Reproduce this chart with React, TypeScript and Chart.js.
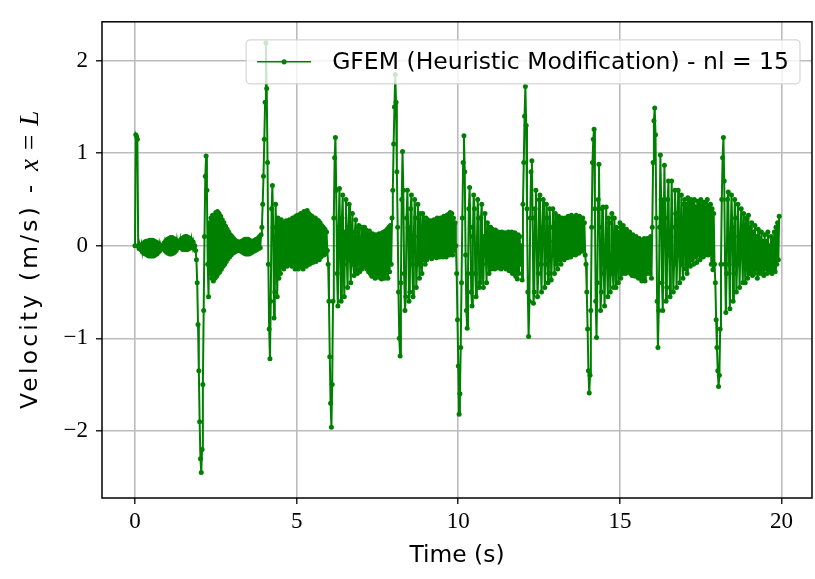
import React, { useEffect, useRef } from "react";
import { Chart, registerables } from "chart.js";

Chart.register(...registerables);

// ---- data ----
const SERIES_LABEL = "GFEM (Heuristic Modification) - nl = 15";
const X_TITLE = "Time (s)";
const Y_TITLE_TEXT = "Velocity (m/s) - ";
const Y_TITLE_MATH = ["x", "=", "L"];
const X_TICKS = [0, 5, 10, 15, 20];
const Y_TICKS = [-2, -1, 0, 1, 2];
const X_RANGE = [-1.02, 20.94];
const Y_RANGE = [-2.725, 2.42];

// sampling of the velocity record (s)
const SAMPLE_START = 0;
const SAMPLE_STEP = 0.025;

// velocity at x = L (m/s), t = 0 ... 4.975 s
const VELOCITY_0_5 = [
  0, 1.2, 1.18, 1.15, 0, -0.03, 0, -0.04, 0.01, -0.06, 0.02, -0.08, 0.04, -0.09, 0.05, -0.1, 0.05, -0.11, 0.06, -0.11,
  0.06, -0.11, 0.06, -0.11, 0.05, -0.1, 0.04, -0.09, 0.03, -0.07, 0.01, -0.05, 0, -0.03, 0, -0.02, 0.03, -0.05, 0.05, -0.07,
  0.07, -0.08, 0.08, -0.09, 0.09, -0.09, 0.09, -0.08, 0.08, -0.07, 0.07, -0.05, 0.05, -0.02, 0.03, 0, 0.06, -0.02, 0.08, -0.04,
  0.09, -0.04, 0.1, -0.04, 0.1, -0.04, 0.09, -0.03, 0.08, -0.02, 0.06, -0.01, 0.04, -0.02, 0, -0.05, -0.15, -0.4, -0.85, -1.35,
  -1.9, -2.3, -2.45, -2.2, -1.5, -0.7, 0.1, 0.75, 0.97, 0.6, -0.2, -0.55, 0.25, -0.3, 0.3, -0.35, 0.33, -0.38, 0.32, -0.35,
  0.36, -0.33, 0.37, -0.3, 0.35, -0.28, 0.32, -0.25, 0.28, -0.22, 0.25, -0.2, 0.21, -0.17, 0.18, -0.14, 0.15, -0.12, 0.12, -0.1,
  0.1, -0.08, 0.08, -0.07, 0.06, -0.06, 0.05, -0.05, 0.04, -0.05, 0.04, -0.06, 0.05, -0.07, 0.06, -0.08, 0.07, -0.09, 0.07, -0.09,
  0.07, -0.09, 0.06, -0.08, 0.05, -0.07, 0.05, -0.06, 0.06, -0.05, 0.07, -0.04, 0.08, -0.03, 0.1, -0.02, 0.12, 0.2, 0.45, 0.75,
  1.15, 1.55, 2.19, 1.7, 0.9, -0.2, -0.9, -1.22, -0.6, 0.4, 0.65, 0.2, -0.78, -0.5, 0.45, 0.1, -0.55, 0.3, -0.35, 0.25,
  -0.3, 0.28, -0.22, 0.25, -0.25, 0.22, -0.2, 0.27, -0.22, 0.25, -0.2, 0.28, -0.18, 0.27, -0.22, 0.3, -0.2, 0.3, -0.25, 0.32,
];

// t = 5.0 ... 9.975 s
const VELOCITY_5_10 = [
  -0.22, 0.33, -0.25, 0.3, -0.2, 0.35, -0.23, 0.32, -0.25, 0.37, -0.2, 0.36, -0.22, 0.38, -0.18, 0.35, -0.2, 0.33, -0.17, 0.32,
  -0.18, 0.3, -0.15, 0.3, -0.17, 0.28, -0.14, 0.27, -0.15, 0.25, -0.12, 0.22, -0.1, 0.2, -0.1, 0.18, -0.08, 0.15, -0.05, -0.2,
  -0.6, -1.2, -1.7, -1.96, -1.5, -0.6, 0.3, 0.95, 1.17, 0.6, -0.3, -0.65, 0.2, 0.62, -0.1, -0.6, 0.3, 0.55, -0.2, -0.55,
  0.15, 0.5, -0.1, -0.45, 0.2, 0.45, -0.15, -0.4, 0.1, 0.35, -0.2, -0.32, 0.15, 0.28, -0.25, -0.3, 0.2, 0.22, -0.28, -0.2,
  0.2, -0.25, 0.18, -0.22, 0.2, -0.2, 0.17, -0.25, 0.15, -0.28, 0.16, -0.3, 0.12, -0.33, 0.13, -0.3, 0.1, -0.35, 0.12, -0.32,
  0.1, -0.34, 0.13, -0.3, 0.12, -0.36, 0.14, -0.33, 0.15, -0.35, 0.16, -0.3, 0.18, -0.35, 0.2, -0.28, 0.22, -0.2, 0.3, 0.6,
  1.1, 1.5, 1.85, 1.55, 0.8, 0.2, -0.5, -1.0, -1.19, -0.4, 0.5, 1.02, 0.6, -0.3, -0.7, -0.55, 0.3, 0.6, 0.2, -0.6,
  -0.5, 0.4, 0.55, -0.2, -0.55, 0.1, 0.5, 0.3, -0.45, -0.2, 0.45, 0.1, -0.35, 0.35, -0.1, -0.3, 0.35, -0.15, 0.3, -0.2,
  0.3, -0.15, 0.28, -0.12, 0.25, -0.1, 0.27, -0.14, 0.25, -0.12, 0.28, -0.1, 0.26, -0.13, 0.3, -0.1, 0.27, -0.12, 0.3, -0.08,
  0.28, -0.12, 0.32, -0.1, 0.3, -0.12, 0.33, -0.08, 0.34, -0.1, 0.36, -0.06, 0.35, -0.1, 0.3, -0.05, 0.25, 0, -0.3, -0.8,
];

// t = 10.0 ... 14.975 s
const VELOCITY_10_15 = [
  -1.3, -1.82, -1.6, -1.1, -0.4, 0.3, 0.9, 1.19, 0.8, -0.1, -0.7, -0.89, -0.3, 0.4, 0.63, 0.2, -0.5, -0.65, 0.1, 0.55,
  0.4, -0.3, -0.55, 0, 0.5, 0.3, -0.45, -0.4, 0.3, 0.45, -0.2, -0.45, 0.1, 0.35, -0.1, -0.4, 0.25, 0.15, -0.3, 0.2,
  0.2, -0.25, 0.18, -0.22, 0.15, -0.25, 0.17, -0.2, 0.14, -0.24, 0.15, -0.22, 0.12, -0.25, 0.15, -0.2, 0.12, -0.23, 0.14, -0.25,
  0.12, -0.22, 0.15, -0.27, 0.13, -0.25, 0.15, -0.3, 0.12, -0.28, 0.14, -0.33, 0.1, -0.36, 0.12, -0.3, 0.1, -0.2, 0, -0.37,
  0.45, 0.9, 1.4, 1.72, 1.3, 0.4, -0.5, -0.98, -0.6, 0.3, 0.8, 0.92, 0.3, -0.62, -0.5, 0.4, 0.6, 0, -0.55, -0.3,
  0.5, 0.55, -0.2, -0.5, 0.2, 0.5, 0.1, -0.45, -0.2, 0.45, 0.3, -0.4, -0.3, 0.4, 0.2, -0.37, -0.1, 0.4, 0.05, -0.3,
  0.35, -0.2, 0.3, -0.25, 0.32, -0.15, 0.28, -0.2, 0.3, -0.12, 0.27, -0.15, 0.3, -0.1, 0.28, -0.13, 0.32, -0.08, 0.3, -0.12,
  0.33, -0.1, 0.28, -0.07, 0.3, -0.1, 0.33, -0.05, 0.3, -0.08, 0.32, -0.05, 0.28, -0.06, 0.3, -0.02, 0.25, -0.1, -0.2, -0.5,
  -0.9, -1.35, -1.59, -1.4, -0.7, 0.2, 0.9, 1.15, 1.26, 0.4, -0.6, -0.99, -0.4, 0.5, 0.88, 0.2, -0.7, -0.5, 0.4, 0.42,
  -0.3, -0.65, 0, 0.42, -0.2, -0.55, 0.3, 0.25, -0.5, -0.1, 0.35, -0.3, -0.45, 0.3, 0.1, -0.45, 0.2, 0.15, -0.4, 0.1,
];

// t = 15.0 ... 19.925 s
const VELOCITY_15_20 = [
  0.25, -0.35, 0.2, -0.3, 0.22, -0.28, 0.15, -0.3, 0.18, -0.25, 0.12, -0.28, 0.15, -0.3, 0.1, -0.32, 0.12, -0.28, 0.08, -0.33,
  0.1, -0.3, 0.06, -0.35, 0.08, -0.33, 0.05, -0.38, 0.06, -0.35, 0.08, -0.38, 0.05, -0.3, 0.08, -0.25, 0.05, -0.3, 0.1, -0.35,
  0.2, 0.9, 1.35, 1.49, 1.2, 0.3, -0.6, -1.1, -0.7, 0.2, 0.98, 0.5, -0.4, -0.7, 0.1, 0.87, 0.3, -0.6, -0.45, 0.5,
  0.7, -0.1, -0.55, 0.1, 0.7, 0.2, -0.5, -0.2, 0.6, 0.35, -0.45, -0.1, 0.6, 0.2, -0.4, 0.1, 0.55, -0.2, -0.35, 0.45,
  0.5, -0.25, 0.45, -0.3, 0.52, -0.2, 0.48, -0.22, 0.5, -0.15, 0.45, -0.2, 0.5, -0.12, 0.42, -0.18, 0.48, -0.1, 0.45, -0.15,
  0.5, -0.08, 0.43, -0.12, 0.47, -0.1, 0.45, -0.05, 0.5, -0.1, 0.42, -0.08, 0.45, -0.2, 0.4, -0.26, 0.35, -0.2, -0.4, -0.8,
  -1.1, -1.35, -1.52, -1.4, -0.9, -0.2, 0.5, 0.95, 1.17, 0.7, -0.2, -0.72, -0.3, 0.5, 0.58, -0.2, -0.68, 0.1, 0.55, 0.2,
  -0.6, -0.3, 0.5, 0.3, -0.5, -0.2, 0.45, 0.1, -0.45, 0, 0.4, -0.1, -0.4, 0.35, 0.1, -0.4, 0.3, -0.05, -0.35, 0.33,
  -0.3, 0.2, -0.28, 0.25, -0.32, 0.15, -0.3, 0.22, -0.25, 0.1, -0.35, 0.18, -0.3, 0.08, -0.28, 0.15, -0.3, 0.05, -0.32, 0.12,
  -0.25, 0.05, -0.3, 0.15, -0.28, 0, -0.25, 0.1, -0.3, 0.08, -0.25, 0.15, -0.28, 0.2, -0.2, 0.25, -0.15, 0.32,
];

const VELOCITY = [...VELOCITY_0_5, ...VELOCITY_5_10, ...VELOCITY_10_15, ...VELOCITY_15_20];

// ---- style ----
const GREEN = "#008000";
const SANS = '"DejaVu Sans", sans-serif';
const SERIF = '"Liberation Serif", serif';
const TICK_FONT_SIZE = 23;

function fitSize(ctx: CanvasRenderingContext2D, text: string, family: string, target: number) {
  ctx.font = `100px ${family}`;
  const w = ctx.measureText(text).width;
  return (100 * target) / w;
}

function fmtTick(v: number) {
  return v < 0 ? "\u2212" + Math.abs(v) : String(v);
}

const decorPlugin = {
  id: "mplDecor",
  afterDatasetsDraw(chart: any) {
    const { ctx, chartArea: a } = chart;
    ctx.save();
    // full frame (spines)
    ctx.strokeStyle = "#000";
    ctx.lineWidth = 1.5;
    ctx.strokeRect(a.left, a.top, a.right - a.left, a.bottom - a.top);

    // legend (upper right, semi-transparent)
    const size = fitSize(ctx, SERIES_LABEL, SANS, 457);
    ctx.font = `${size}px ${SANS}`;
    const tw = ctx.measureText(SERIES_LABEL).width;
    const bw = 86 + tw + 11;
    const bh = 44;
    const bx = a.right - 12 - bw;
    const by = a.top + 18;
    const r = 4;
    ctx.beginPath();
    ctx.moveTo(bx + r, by);
    ctx.lineTo(bx + bw - r, by);
    ctx.arcTo(bx + bw, by, bx + bw, by + r, r);
    ctx.lineTo(bx + bw, by + bh - r);
    ctx.arcTo(bx + bw, by + bh, bx + bw - r, by + bh, r);
    ctx.lineTo(bx + r, by + bh);
    ctx.arcTo(bx, by + bh, bx, by + bh - r, r);
    ctx.lineTo(bx, by + r);
    ctx.arcTo(bx, by, bx + r, by, r);
    ctx.closePath();
    ctx.fillStyle = "rgba(255,255,255,0.8)";
    ctx.fill();
    ctx.strokeStyle = "rgba(204,204,204,0.8)";
    ctx.lineWidth = 1.2;
    ctx.stroke();

    const cy = by + bh / 2;
    ctx.strokeStyle = GREEN;
    ctx.lineWidth = 1.4;
    ctx.beginPath();
    ctx.moveTo(bx + 11, cy);
    ctx.lineTo(bx + 65, cy);
    ctx.stroke();
    ctx.fillStyle = GREEN;
    ctx.beginPath();
    ctx.arc(bx + 38, cy, 2.6, 0, Math.PI * 2);
    ctx.fill();

    ctx.fillStyle = "#000";
    ctx.textBaseline = "middle";
    ctx.textAlign = "left";
    ctx.fillText(SERIES_LABEL, bx + 86, cy + 1);
    ctx.restore();
  },
  afterDraw(chart: any) {
    const { ctx, chartArea: a } = chart;
    ctx.save();
    ctx.fillStyle = "#000";
    ctx.textBaseline = "middle";

    // x title
    const xs = fitSize(ctx, X_TITLE, SANS, 95);
    ctx.font = `${xs}px ${SANS}`;
    ctx.textAlign = "center";
    ctx.fillText(X_TITLE, (a.left + a.right) / 2, 556);

    // y title: text part (same size as x title, spread to its measured span) + math part
    ctx.font = `${xs}px ${SANS}`;
    const textSpan = 238;
    const base = ctx.measureText(Y_TITLE_TEXT).width;
    const spacing = Math.max(0, (textSpan - base) / Y_TITLE_TEXT.length);
    const mathFonts = [`italic 27px ${SERIF}`, `27px ${SERIF}`, `italic 27px ${SERIF}`];
    const gap = 9;
    const mathW = Y_TITLE_MATH.map((p, i) => {
      ctx.font = mathFonts[i];
      return ctx.measureText(p).width;
    });
    const total = textSpan + mathW.reduce((s, w) => s + w, 0) + gap * 2;
    ctx.translate(31, (a.top + a.bottom) / 2);
    ctx.rotate(-Math.PI / 2);
    ctx.textAlign = "left";
    let x = -total / 2;
    ctx.font = `${xs}px ${SANS}`;
    (ctx as any).letterSpacing = `${spacing}px`;
    ctx.fillText(Y_TITLE_TEXT, x, 0);
    (ctx as any).letterSpacing = "0px";
    x += textSpan;
    Y_TITLE_MATH.forEach((p, i) => {
      ctx.font = mathFonts[i];
      ctx.fillText(p, x, 0);
      x += mathW[i] + gap;
    });
    ctx.restore();
  },
};

export default function App() {
  const ref = useRef<HTMLCanvasElement | null>(null);

  useEffect(() => {
    if (!ref.current) return;
    const points = VELOCITY.map((v, i) => ({ x: SAMPLE_START + i * SAMPLE_STEP, y: v }));
    const gridCommon = {
      color: "#bcbcbc",
      lineWidth: 1.6,
      tickColor: "#000",
      tickLength: 6,
      tickWidth: 1.3,
    };
    const chart = new Chart(ref.current, {
      type: "line",
      data: {
        datasets: [
          {
            label: SERIES_LABEL,
            data: points,
            borderColor: GREEN,
            backgroundColor: GREEN,
            borderWidth: 2,
            pointRadius: 2.5,
            pointHoverRadius: 2.5,
            pointBorderWidth: 0,
            pointBackgroundColor: GREEN,
            tension: 0,
          },
        ],
      },
      options: {
        animation: false,
        responsive: false,
        maintainAspectRatio: false,
        events: [],
        layout: { padding: { top: 11, right: 3, left: 0, bottom: 0 } },
        plugins: { legend: { display: false }, tooltip: { enabled: false } },
        scales: {
          x: {
            type: "linear",
            min: X_RANGE[0],
            max: X_RANGE[1],
            afterBuildTicks: (s: any) => {
              s.ticks = X_TICKS.map((v) => ({ value: v }));
            },
            afterFit: (s: any) => {
              s.height = 81;
            },
            grid: gridCommon,
            border: { display: false },
            ticks: {
              autoSkip: false,
              maxRotation: 0,
              padding: 4,
              color: "#000",
              font: { family: SERIF, size: TICK_FONT_SIZE },
              callback: (v: any) => fmtTick(Number(v)),
            },
          },
          y: {
            type: "linear",
            min: Y_RANGE[0],
            max: Y_RANGE[1],
            afterBuildTicks: (s: any) => {
              s.ticks = Y_TICKS.map((v) => ({ value: v }));
            },
            afterFit: (s: any) => {
              s.width = 102;
            },
            grid: gridCommon,
            border: { display: false },
            ticks: {
              autoSkip: false,
              padding: 8,
              color: "#000",
              font: { family: SERIF, size: TICK_FONT_SIZE },
              callback: (v: any) => fmtTick(Number(v)),
            },
          },
        },
      },
      plugins: [decorPlugin],
    } as any);
    return () => chart.destroy();
  }, []);

  return (
    <div style={{ position: "fixed", left: 0, top: 0, width: 815, height: 579, background: "#fff" }}>
      <canvas ref={ref} width={815} height={579} style={{ display: "block", width: 815, height: 579 }} />
    </div>
  );
}
